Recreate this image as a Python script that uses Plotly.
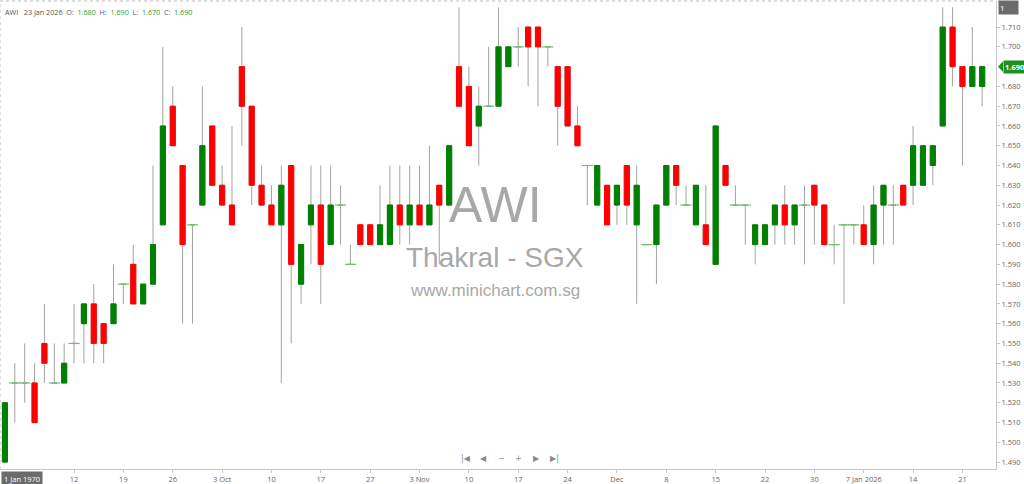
import pandas as pd
import plotly.graph_objects as go

# daily bars, 3 Sep 2025 - 23 Jan 2026 (SGX trading days)
HOLIDAYS = ["2025-10-20", "2025-12-25", "2026-01-01"]
dates = pd.bdate_range("2025-09-03", "2026-01-23", freq="C", holidays=HOLIDAYS).strftime("%Y-%m-%d").tolist()

opens = [1.49, 1.53, 1.53, 1.53, 1.55, 1.53, 1.53, 1.55, 1.56, 1.57,
         1.56, 1.56, 1.58, 1.59, 1.57, 1.58, 1.61, 1.67, 1.64, 1.61,
         1.62, 1.66, 1.63, 1.62, 1.69, 1.67, 1.63, 1.62, 1.61, 1.64,
         1.58, 1.61, 1.62, 1.60, 1.62, 1.59, 1.61, 1.61, 1.60, 1.60,
         1.62, 1.61, 1.62, 1.61, 1.63, 1.62, 1.69, 1.68, 1.66, 1.67,
         1.67, 1.69, 1.70, 1.71, 1.71, 1.70, 1.69, 1.69, 1.66, 1.64,
         1.62, 1.63, 1.62, 1.64, 1.61, 1.60, 1.60, 1.62, 1.64, 1.62,
         1.61, 1.61, 1.59, 1.64, 1.62, 1.62, 1.60, 1.60, 1.61, 1.62,
         1.61, 1.62, 1.63, 1.62, 1.60, 1.61, 1.61, 1.61, 1.60, 1.62,
         1.62, 1.63, 1.63, 1.63, 1.64, 1.66, 1.71, 1.69, 1.68, 1.68]
highs = [1.52, 1.54, 1.55, 1.54, 1.57, 1.55, 1.55, 1.57, 1.57, 1.58,
         1.56, 1.59, 1.58, 1.60, 1.58, 1.64, 1.70, 1.68, 1.64, 1.61,
         1.68, 1.66, 1.64, 1.66, 1.71, 1.67, 1.64, 1.63, 1.64, 1.64,
         1.60, 1.64, 1.64, 1.64, 1.63, 1.60, 1.61, 1.61, 1.63, 1.64,
         1.64, 1.64, 1.64, 1.65, 1.63, 1.65, 1.72, 1.69, 1.68, 1.70,
         1.72, 1.70, 1.71, 1.71, 1.71, 1.70, 1.69, 1.69, 1.67, 1.64,
         1.64, 1.63, 1.63, 1.64, 1.64, 1.60, 1.62, 1.64, 1.64, 1.63,
         1.63, 1.63, 1.66, 1.64, 1.63, 1.62, 1.61, 1.61, 1.62, 1.63,
         1.62, 1.63, 1.63, 1.62, 1.61, 1.61, 1.61, 1.62, 1.63, 1.63,
         1.63, 1.63, 1.66, 1.65, 1.65, 1.72, 1.72, 1.69, 1.71, 1.69]
lows = [1.49, 1.51, 1.52, 1.51, 1.53, 1.53, 1.53, 1.54, 1.54, 1.54,
        1.54, 1.56, 1.57, 1.57, 1.57, 1.58, 1.61, 1.65, 1.56, 1.56,
        1.62, 1.63, 1.62, 1.61, 1.65, 1.62, 1.62, 1.61, 1.53, 1.55,
        1.57, 1.59, 1.57, 1.60, 1.60, 1.59, 1.60, 1.60, 1.60, 1.60,
        1.60, 1.60, 1.61, 1.61, 1.59, 1.62, 1.67, 1.65, 1.64, 1.67,
        1.67, 1.69, 1.69, 1.68, 1.67, 1.69, 1.65, 1.66, 1.65, 1.62,
        1.62, 1.61, 1.61, 1.61, 1.57, 1.60, 1.58, 1.62, 1.62, 1.62,
        1.61, 1.60, 1.59, 1.63, 1.62, 1.60, 1.59, 1.60, 1.60, 1.60,
        1.60, 1.59, 1.60, 1.60, 1.59, 1.57, 1.60, 1.60, 1.59, 1.60,
        1.60, 1.62, 1.62, 1.63, 1.63, 1.66, 1.68, 1.64, 1.68, 1.67]
closes = [1.52, 1.53, 1.53, 1.51, 1.54, 1.53, 1.54, 1.55, 1.57, 1.55,
          1.55, 1.57, 1.58, 1.57, 1.58, 1.60, 1.66, 1.65, 1.60, 1.61,
          1.65, 1.63, 1.62, 1.61, 1.67, 1.63, 1.62, 1.61, 1.63, 1.59,
          1.60, 1.62, 1.59, 1.62, 1.62, 1.59, 1.60, 1.60, 1.61, 1.62,
          1.61, 1.62, 1.61, 1.62, 1.62, 1.65, 1.67, 1.65, 1.67, 1.67,
          1.70, 1.70, 1.70, 1.70, 1.70, 1.70, 1.67, 1.66, 1.65, 1.64,
          1.64, 1.61, 1.63, 1.62, 1.63, 1.60, 1.62, 1.64, 1.63, 1.62,
          1.63, 1.60, 1.66, 1.63, 1.62, 1.62, 1.61, 1.61, 1.62, 1.61,
          1.62, 1.62, 1.62, 1.60, 1.60, 1.61, 1.61, 1.60, 1.62, 1.63,
          1.62, 1.62, 1.65, 1.65, 1.65, 1.71, 1.69, 1.68, 1.69, 1.69]

tick_dates = ["2025-09-12", "2025-09-19", "2025-09-26", "2025-10-03", "2025-10-10",
              "2025-10-17", "2025-10-27", "2025-11-03", "2025-11-10", "2025-11-17",
              "2025-11-24", "2025-12-01", "2025-12-08", "2025-12-15", "2025-12-22",
              "2025-12-30", "2026-01-07", "2026-01-14", "2026-01-21"]
tick_text = ["12", "19", "26", "3 Oct", "10", "17", "27", "3 Nov", "10", "17",
             "24", "Dec", "8", "15", "22", "30", "7 Jan 2026", "14", "21"]
# 1.490 .. 1.710; the last-price tag sits where its own label would be
price_ticks = [t for t in (round(1.49 + 0.01 * i, 2) for i in range(23)) if t != closes[-1]]

GREEN = "#008000"
RED = "#ff0000"
WICK = "#a3a3a3"
DOJI = "#6fbf6f"
AXIS = "#c8c8c8"
FONT = "Open Sans"

# bodies only (doji bars drawn separately as short lines)
body_o, body_c, body_hi, body_lo = [], [], [], []
doji_x, doji_y = [], []
for d, o, c in zip(dates, opens, closes):
    if abs(o - c) < 1e-9:
        body_o.append(None); body_c.append(None); body_hi.append(None); body_lo.append(None)
        doji_x.append(d); doji_y.append(c)
    else:
        body_o.append(o); body_c.append(c)
        body_hi.append(max(o, c)); body_lo.append(min(o, c))

fig = go.Figure()

# wicks
fig.add_trace(go.Candlestick(
    x=dates, open=opens, high=highs, low=lows, close=closes,
    increasing=dict(line=dict(color=WICK, width=1), fillcolor="rgba(0,0,0,0)"),
    decreasing=dict(line=dict(color=WICK, width=1), fillcolor="rgba(0,0,0,0)"),
    whiskerwidth=0, hoverinfo="skip", showlegend=False,
))
# coloured bodies
fig.add_trace(go.Candlestick(
    x=dates, open=body_o, high=body_hi, low=body_lo, close=body_c,
    increasing=dict(line=dict(color=GREEN, width=1), fillcolor=GREEN),
    decreasing=dict(line=dict(color=RED, width=1), fillcolor=RED),
    whiskerwidth=0, showlegend=False,
))
# doji ticks
fig.add_trace(go.Scatter(
    x=doji_x, y=doji_y, mode="markers",
    marker=dict(symbol="line-ew", size=8, line=dict(color=DOJI, width=1.2)),
    hoverinfo="skip", showlegend=False,
))

watermark = [("AWI", 0.565, 50), ("Thakral - SGX", 0.452, 28), ("www.minichart.com.sg", 0.382, 17)]
annotations = []
for txt, yy, sz in watermark:
    annotations.append(dict(text=txt, xref="paper", yref="paper", x=0.497, y=yy,
                            showarrow=False, font=dict(family="Liberation Sans", size=sz, color="#a8a8a8")))

last_date = "23 Jan 2026"
hdr_val = lambda v: f"<span style='color:#2e9e2e'>{v:.3f}</span>"
header = (f"AWI&nbsp;&nbsp;&nbsp;{last_date}&nbsp;&nbsp;O:&nbsp;&nbsp;{hdr_val(opens[-1])}&nbsp;&nbsp;H:&nbsp;&nbsp;{hdr_val(highs[-1])}"
          f"&nbsp;&nbsp;L:&nbsp;&nbsp;{hdr_val(lows[-1])}&nbsp;&nbsp;C:&nbsp;&nbsp;{hdr_val(closes[-1])}")
annotations.append(dict(text=header, xref="paper", yref="paper", x=0, y=1, xanchor="left", yanchor="top",
                        xshift=3, yshift=-4, showarrow=False, font=dict(family=FONT, size=7.2, color="#555")))

# last price tag on the axis
annotations.append(dict(text=f"<b>{closes[-1]:.3f}</b>", xref="paper", yref="y", x=1, y=closes[-1],
                        xanchor="left", xshift=7, showarrow=False, bgcolor="#1f8f1f", borderpad=1,
                        font=dict(family=FONT, size=7.5, color="white")))
# corner badges
annotations.append(dict(text="1&nbsp;&nbsp;&nbsp;&nbsp;&nbsp;&nbsp;", xref="paper", yref="paper", x=1, y=1, xanchor="left", yanchor="top",
                        xshift=2, yshift=1, showarrow=False, bgcolor="#6b6b6b", borderpad=1,
                        font=dict(family=FONT, size=8, color="white")))
annotations.append(dict(text="1 Jan 1970", xref="paper", yref="paper", x=0, y=0, xanchor="left", yanchor="top",
                        xshift=1, yshift=-2, showarrow=False, bgcolor="#6b6b6b", borderpad=2,
                        font=dict(family=FONT, size=7.5, color="white")))
# navigation buttons
for i, g in enumerate(["|◀", "◀", "−", "+", "▶", "▶|"]):
    annotations.append(dict(text=g, xref="paper", yref="paper", x=(466 + i * 17.6) / 996, y=0,
                            yanchor="bottom", yshift=4, showarrow=False,
                            font=dict(family="DejaVu Sans", size=8, color="#8a8a8a")))

px = 1 / 996  # one pixel in paper units along x
fig.update_layout(
    width=1024, height=484,
    margin=dict(l=0, r=28, t=1, b=15),
    paper_bgcolor="white", plot_bgcolor="white",
    boxgap=0.26,
    showlegend=False,
    annotations=annotations,
    font=dict(family=FONT, size=8, color="#666"),
    shapes=[
        dict(type="line", xref="paper", yref="paper", x0=0, x1=1, y0=1, y1=1,
             line=dict(color="#bbbbbb", width=1, dash="dot")),
        dict(type="line", xref="paper", yref="paper", x0=0, x1=0, y0=0, y1=1,
             line=dict(color="#bbbbbb", width=1, dash="dot")),
        # pointer of the last price tag
        dict(type="path", xref="paper", yref="y",
             path=f"M {1 + 2 * px},{closes[-1]} L {1 + 7 * px},{closes[-1] + 0.0027} L {1 + 7 * px},{closes[-1] - 0.0027} Z",
             fillcolor="#1f8f1f", line=dict(width=0)),
    ],
    xaxis=dict(
        type="category", range=[-0.5, 100.4], rangeslider=dict(visible=False),
        tickvals=tick_dates, ticktext=tick_text, tickangle=0,
        showgrid=False, zeroline=False, showline=True, linecolor=AXIS,
        ticks="outside", ticklen=3, tickcolor=AXIS, tickfont=dict(size=7.5, color="#666"),
    ),
    yaxis=dict(
        side="right", range=[1.4865, 1.7232], tickvals=price_ticks, tickformat=".3f",
        showgrid=False, zeroline=False, showline=True, linecolor=AXIS,
        ticks="outside", ticklen=3, tickcolor=AXIS, tickfont=dict(size=7.5, color="#666"),
    ),
)

# drop the default body margin so the 1024x484 figure sits flush in the window
fig.write_html("out.html", config={"displayModeBar": False},
               post_script="document.body.style.margin='0';document.body.style.overflow='hidden';")
